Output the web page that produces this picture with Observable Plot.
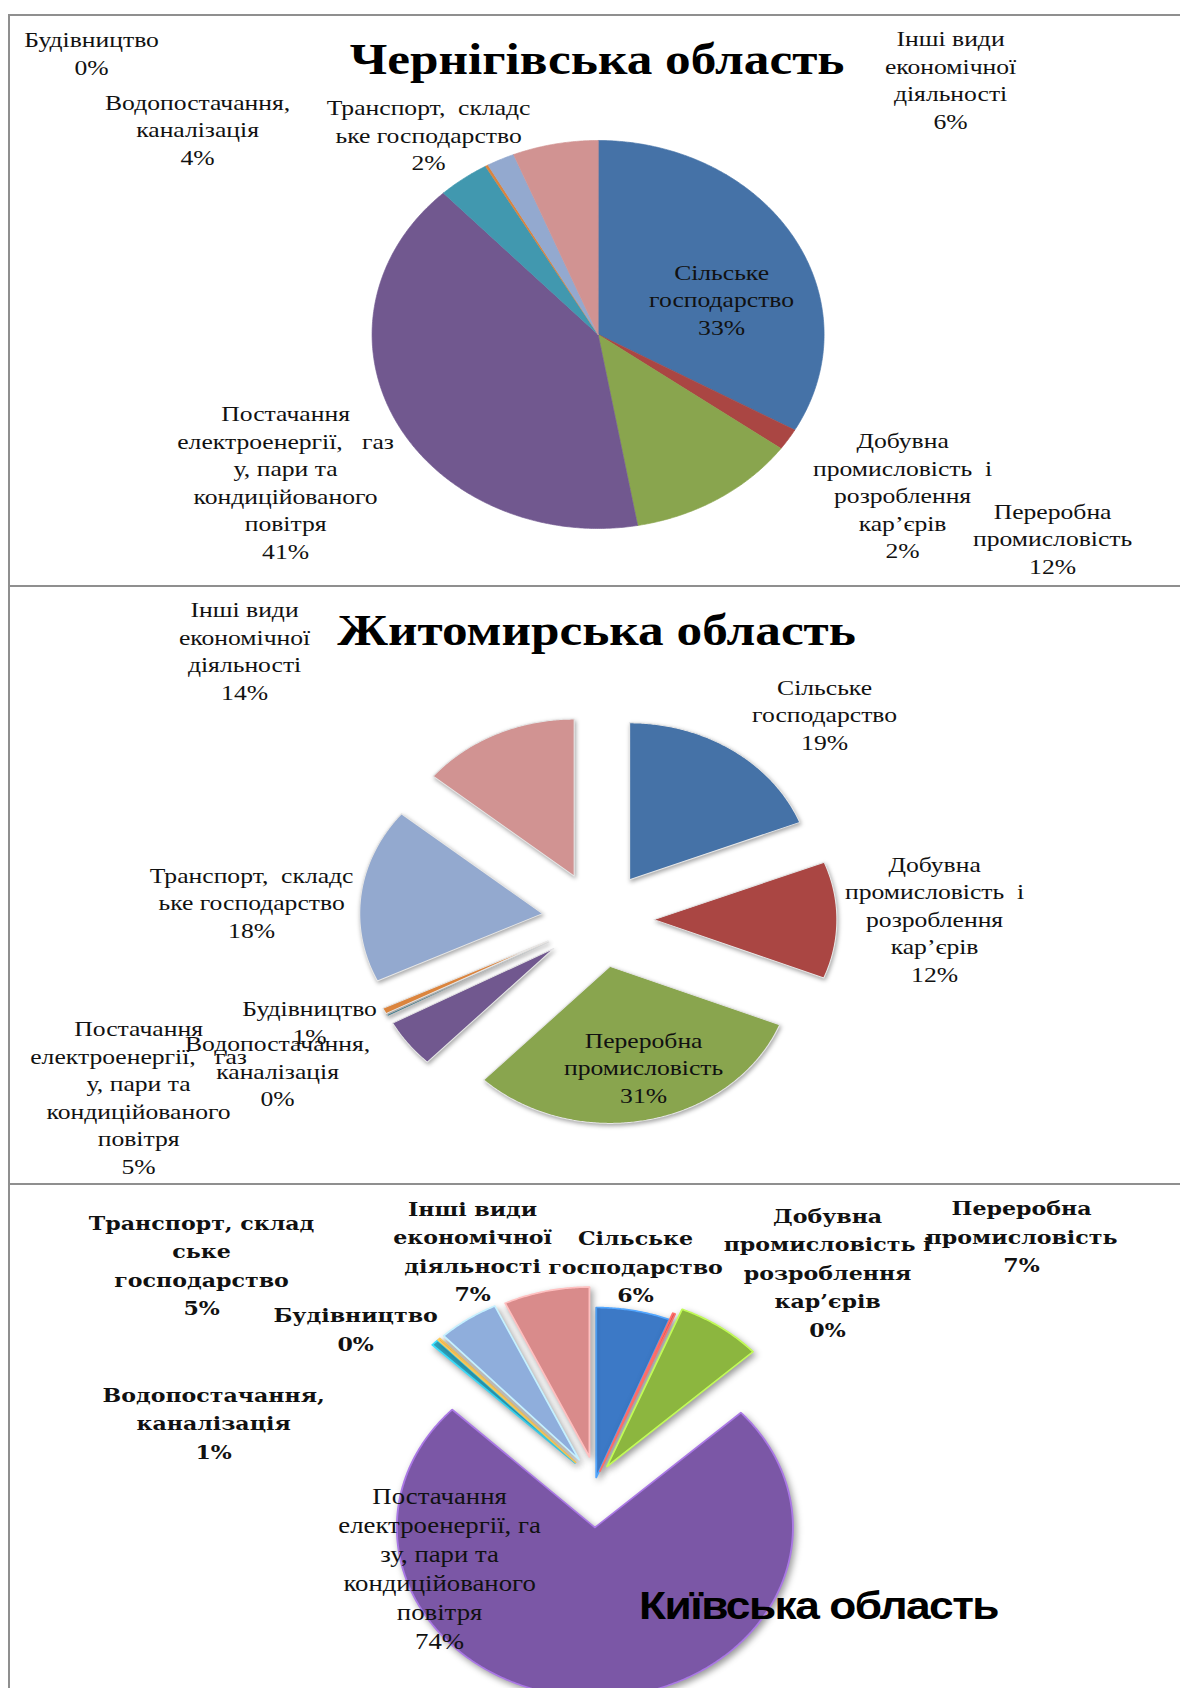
<!DOCTYPE html>
<html>
<head>
<meta charset="utf-8">
<script src="https://cdn.jsdelivr.net/npm/d3@7"></script>
<script src="https://cdn.jsdelivr.net/npm/@observablehq/plot@0.6"></script>
<style>
html, body { margin: 0; padding: 0; background: #fff; }
#page { position: relative; width: 1180px; height: 1688px; overflow: hidden; background: #fff; }
.panel { position: absolute; left: 0; width: 1180px; overflow: hidden; }
.frame { position: absolute; left: 8px; top: 0; right: 0; bottom: 0; border-top: 2px solid #8f8f8f; border-left: 2px solid #8f8f8f; pointer-events: none; }
.panel svg { position: absolute; left: 0; top: 0; transform: scaleX(1.165); transform-origin: 0 0; }
svg text { white-space: pre; }
</style>
</head>
<body>
<div id="page"></div>
<script>
// ---------- data ----------
const categories = [
  "Сільське господарство",
  "Добувна промисловість і розроблення кар’єрів",
  "Переробна промисловість",
  "Постачання електроенергії, газу, пари та кондиційованого повітря",
  "Водопостачання, каналізація",
  "Будівництво",
  "Транспорт, складське господарство",
  "Інші види економічної діяльності"
];
const chernihivValues = [33.2, 1.8, 12.2, 40.8, 3.7, 0.2, 2.0, 6.1];
const zhytomyrValues  = [19, 12, 31, 5, 0.2, 0.6, 18, 14];
const kyivValues      = [6, 0.2, 7, 74, 0.6, 0.2, 5, 7];

const chernihivTitle = "Чернігівська область";
const zhytomyrTitle  = "Житомирська область";
const kyivTitle      = "Київська область";

// category names as wrapped in each chart
const wrapped12 = [
  "Сільське\nгосподарство",
  "Добувна\nпромисловість  і\nрозроблення\nкар’єрів",
  "Переробна\nпромисловість",
  "Постачання\nелектроенергії,   газ\nу, пари та\nкондиційованого\nповітря",
  "Водопостачання,\nканалізація",
  "Будівництво",
  "Транспорт,  складс\nьке господарство",
  "Інші види\nекономічної\nдіяльності"
];
const wrapped3 = [
  "Сільське\nгосподарство",
  "Добувна\nпромисловість і\nрозроблення\nкар’єрів",
  "Переробна\nпромисловість",
  "Постачання\nелектроенергії, га\nзу, пари та\nкондиційованого\nповітря",
  "Водопостачання,\nканалізація",
  "Будівництво",
  "Транспорт, склад\nське\nгосподарство",
  "Інші види\nекономічної\nдіяльності"
];

// ---------- styling / layout ----------
const SX = 1.165; // horizontal stretch of the original picture
const colorsA = ["#4572A7", "#AA4643", "#89A54E", "#71588F", "#4198AF", "#DB843D", "#93A9CF", "#D19392"];
const colorsB = ["#3C79C6", "#C0504D", "#8CB63F", "#7B57A6", "#2EA3BE", "#F79646", "#8FAEDC", "#D98B8B"];

const panels = [
  {top: 14, height: 571, values: chernihivValues, names: wrapped12, colors: colorsA,
   center: [597.5, 334], r: 194, explode: [0,0,0,0,0,0,0,0], shadow: null, edge: null,
   title: chernihivTitle, titlePos: [596.5, 59], titleFont: "Liberation Serif", titleSize: 44, titleSpacing: 0,
   labelFont: "Liberation Serif", labelSize: 22, labelWeight: "normal", lineH: 1.25,
   labelPos: [[721,298],[902,494],[1052,537],[285,480.5],[197,128],[91,51.5],[428,133.5],[950,78]]},
  {top: 585, height: 598, values: zhytomyrValues, names: wrapped12, colors: colorsA,
   center: [597.5, 919], r: 157, explode: [48,48,48,48,48,48,48,48],
   shadow: "drop-shadow(1px 2px 2px rgba(0,0,0,0.35))", edge: "#e6e6e6",
   title: zhytomyrTitle, titlePos: [596, 630], titleFont: "Liberation Serif", titleSize: 44, titleSpacing: 0,
   labelFont: "Liberation Serif", labelSize: 22, labelWeight: "normal", lineH: 1.25,
   labelPos: [[824,713],[934,917.5],[643,1066],[138,1095.5],[277,1069.5],[309,1020.5],[251,901],[244,649]]},
  {top: 1183, height: 505, values: kyivValues, names: wrapped3, colors: colorsB,
   center: [595, 1480], r: 170, explode: [3,10,17,47,25,25,25,24],
   shadow: "drop-shadow(2px 3px 3px rgba(0,0,0,0.4))", edge: "bright",
   title: kyivTitle, titlePos: [818, 1606], titleFont: "Liberation Sans", titleSize: 38, titleSpacing: -1.3,
   labelFont: "DejaVu Serif", labelSize: 19, labelWeight: "bold", lineH: 1.5,
   bigLabel: 3, bigFont: "Liberation Serif", bigSize: 23, bigLineH: 1.26,
   labelPos: [[635,1264],[827,1270],[1021,1234],[439,1566.5],[213,1420.5],[355,1327],[201,1263],[472,1249]]}
];

function slicePolys(values, colors, cx, cy, r, explode) {
  const arcs = d3.pie().sort(null).value(d => d)(values);
  return arcs.map((a, i) => {
    const mid = (a.startAngle + a.endAngle) / 2;
    const e = explode[i];
    const ox = cx + e * Math.sin(mid), oy = cy - e * Math.cos(mid);
    const pts = [{x: ox, y: oy}];
    const n = Math.max(2, Math.ceil((a.endAngle - a.startAngle) / (Math.PI / 360)));
    for (let k = 0; k <= n; k++) {
      const t = a.startAngle + (a.endAngle - a.startAngle) * k / n;
      pts.push({x: ox + r * Math.sin(t), y: oy - r * Math.cos(t)});
    }
    return {color: colors[i], points: pts};
  });
}

const page = document.getElementById("page");
for (const p of panels) {
  const W = 1180 / SX;
  const cx = p.center[0] / SX, cy = p.center[1] - p.top;
  const slices = slicePolys(p.values, p.colors, cx, cy, p.r, p.explode);
  const labels = p.values.map((v, i) => ({
    x: p.labelPos[i][0] / SX,
    y: p.labelPos[i][1] - p.top,
    text: p.names[i] + "\n" + Math.round(v) + "%",
    big: i === p.bigLabel
  }));
  const marks = [];
  for (const s of slices) {
    let stroke = s.color, sw = 0.6;
    if (p.edge === "bright") { stroke = d3.color(s.color).brighter(0.9).formatHex(); sw = 1.6; }
    else if (p.edge) { stroke = p.edge; sw = 1; }
    marks.push(Plot.line(s.points, {x: "x", y: "y", fill: s.color, stroke, strokeWidth: sw, curve: "linear-closed"}));
  }
  marks.push(Plot.text(labels.filter(d => !d.big), {x: "x", y: "y", text: "text",
    fontFamily: p.labelFont, fontSize: p.labelSize, fontWeight: p.labelWeight, lineHeight: p.lineH, fill: "#111",
    textAnchor: "middle", lineAnchor: "middle"}));
  if (p.bigLabel !== undefined) {
    marks.push(Plot.text(labels.filter(d => d.big), {x: "x", y: "y", text: "text",
      fontFamily: p.bigFont, fontSize: p.bigSize, lineHeight: p.bigLineH, fill: "#111",
      textAnchor: "middle", lineAnchor: "middle"}));
  }
  marks.push(Plot.text([{x: p.titlePos[0] / SX, y: p.titlePos[1] - p.top, t: p.title}], {
    x: "x", y: "y", text: "t", fontFamily: p.titleFont, fontSize: p.titleSize, fontWeight: "bold",
    fill: "#000", textAnchor: "middle", lineAnchor: "middle"}));

  const svg = Plot.plot({
    width: W, height: p.height, margin: 0,
    x: {domain: [0, W], range: [0, W], axis: null},
    y: {domain: [0, p.height], range: [0, p.height], axis: null},
    style: {background: "transparent", overflow: "visible"},
    marks
  });
  if (p.shadow) svg.querySelectorAll('g[aria-label="line"]').forEach(g => { g.style.filter = p.shadow; });
  if (p.titleSpacing) {
    const tg = svg.querySelectorAll('g[aria-label="text"]');
    tg[tg.length - 1].style.letterSpacing = p.titleSpacing + "px";
  }
  const div = document.createElement("div");
  div.className = "panel";
  div.style.top = p.top + "px";
  div.style.height = p.height + "px";
  div.appendChild(svg);
  const frame = document.createElement("div");
  frame.className = "frame";
  div.appendChild(frame);
  page.appendChild(div);
}
</script>
</body>
</html>
